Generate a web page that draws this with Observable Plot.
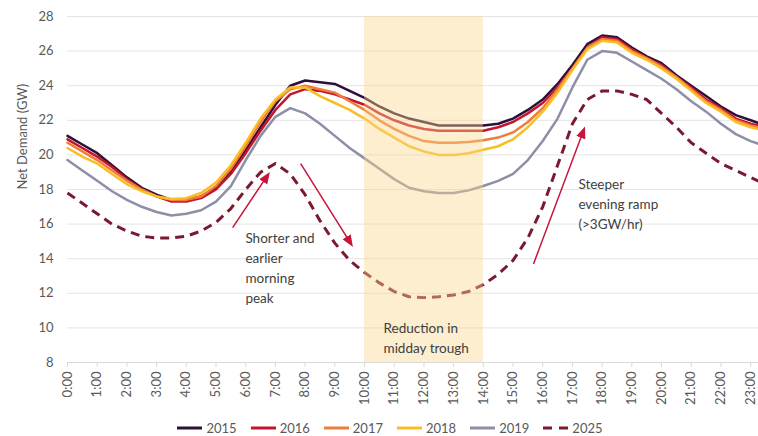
<!DOCTYPE html>
<html><head><meta charset="utf-8">
<script src="https://cdn.jsdelivr.net/npm/d3@7"></script>
<script src="https://cdn.jsdelivr.net/npm/@observablehq/plot@0.6"></script>
<style>
body{margin:0;background:#fff;font-family:Lato,sans-serif;}
#chart{width:758px;height:436px;position:relative;overflow:hidden;}
#legend{position:absolute;left:0;top:421px;width:736px;padding-left:22px;display:flex;justify-content:center;font-size:13px;color:#595959;line-height:14px;}
.item{display:flex;align-items:center;margin:0 7px;}
.item svg{margin-right:4px;}
</style></head><body><div id="chart"><div id="legend"></div></div>
<script>
// half-hourly time points (hours)
const times = [0,0.5,1,1.5,2,2.5,3,3.5,4,4.5,5,5.5,6,6.5,7,7.5,8,8.5,9,9.5,10,10.5,11,11.5,12,12.5,13,13.5,14,14.5,15,15.5,16,16.5,17,17.5,18,18.5,19,19.5,20,20.5,21,21.5,22,22.5,23,23.5];
const hourTicks = [0,1,2,3,4,5,6,7,8,9,10,11,12,13,14,15,16,17,18,19,20,21,22,23];
const hourLabels = ["0:00","1:00","2:00","3:00","4:00","5:00","6:00","7:00","8:00","9:00","10:00","11:00","12:00","13:00","14:00","15:00","16:00","17:00","18:00","19:00","20:00","21:00","22:00","23:00"];
const yTicks = [8,10,12,14,16,18,20,22,24,26,28];

const years = ["2015","2016","2017","2018","2019","2025"];
const y2015 = [21.1,20.6,20.1,19.4,18.7,18.1,17.7,17.4,17.4,17.6,18.1,19.0,20.3,21.6,22.9,24.0,24.3,24.2,24.1,23.7,23.3,22.8,22.4,22.1,21.9,21.7,21.7,21.7,21.7,21.8,22.1,22.6,23.2,24.1,25.2,26.4,26.9,26.8,26.2,25.7,25.3,24.6,24.0,23.4,22.8,22.3,22.0,21.7];
const y2016 = [20.9,20.4,19.9,19.3,18.6,18.0,17.6,17.3,17.3,17.5,18.0,18.9,20.1,21.4,22.6,23.5,23.8,23.7,23.5,23.2,22.9,22.4,22.0,21.7,21.5,21.4,21.4,21.4,21.4,21.6,21.9,22.4,23.0,23.9,25.0,26.2,26.8,26.7,26.1,25.6,25.2,24.5,23.9,23.2,22.7,22.1,21.8,21.6];
const y2017 = [20.7,20.2,19.7,19.1,18.5,18.0,17.6,17.4,17.4,17.6,18.2,19.2,20.5,21.9,23.1,23.8,24.0,23.8,23.6,23.1,22.6,22.0,21.5,21.1,20.8,20.7,20.7,20.75,20.85,21.0,21.3,21.9,22.7,23.8,25.0,26.2,26.7,26.6,26.0,25.6,25.1,24.5,23.8,23.1,22.6,22.0,21.7,21.5];
const y2018 = [20.4,19.9,19.5,18.9,18.3,17.9,17.6,17.45,17.5,17.8,18.4,19.4,20.7,22.1,23.2,23.9,23.9,23.4,23.0,22.6,22.1,21.5,21.0,20.5,20.2,20.0,20.0,20.1,20.3,20.5,20.9,21.6,22.5,23.6,24.9,26.1,26.6,26.5,25.9,25.5,25.0,24.4,23.7,23.0,22.5,21.9,21.6,21.4];
const y2019 = [19.7,19.1,18.5,17.9,17.4,17.0,16.7,16.5,16.6,16.8,17.3,18.2,19.7,21.1,22.2,22.7,22.4,21.8,21.1,20.4,19.8,19.2,18.6,18.1,17.9,17.8,17.8,17.95,18.2,18.5,18.9,19.7,20.8,22.1,23.9,25.5,26.0,25.9,25.4,24.9,24.4,23.8,23.1,22.5,21.8,21.2,20.8,20.5];
const y2025 = [17.8,17.2,16.6,16.0,15.6,15.3,15.2,15.2,15.3,15.6,16.1,16.9,18.0,19.0,19.5,18.9,17.7,16.2,14.9,13.9,13.2,12.6,12.1,11.8,11.75,11.8,11.9,12.1,12.5,13.1,13.9,15.2,17.0,19.4,21.8,23.2,23.7,23.7,23.5,23.2,22.4,21.6,20.7,20.1,19.5,19.1,18.7,18.3];
const values = [y2015,y2016,y2017,y2018,y2019,y2025];
const colors = ["#2d0f38","#c4152f","#ef7d38","#fbbd24","#8d8fa7","#7a1a30"];
const dashes = [null,null,null,null,null,"9,6"];

// highlighted midday window (hours)
const highlight = [{start:10, end:14}];
// annotation arrows (hour, GW)
const arrows = [
  {x1:5.56,y1:15.8,x2:6.73,y2:18.8},
  {x1:7.85,y1:19.5,x2:9.53,y2:14.9},
  {x1:15.69,y1:13.7,x2:17.37,y2:21.4}
];
const notes = [
  {x:5.99,y:15.75,text:"Shorter and\nearlier\nmorning\npeak"},
  {x:10.64,y:10.54,text:"Reduction in\nmidday trough"},
  {x:17.2,y:18.87,text:"Steeper\nevening ramp\n(>3GW/hr)"}
];

const lineMarks = years.map((yr,k) => Plot.line(times.map((t,i)=>({t, v: values[k][i]})), {
  x:"t", y:"v", stroke: colors[k], strokeWidth: k===5 ? 3 : 2.5,
  strokeDasharray: dashes[k] || undefined, strokeLinejoin:"round", strokeLinecap: k===5 ? "butt" : "round"
}));

const plot = Plot.plot({
  width: 758, height: 420,
  marginTop: 16, marginBottom: 58, marginLeft: 67, marginRight: 0,
  style: {fontFamily: "Lato, sans-serif", fontSize: "13px", color: "#595959", background: "transparent", overflow: "hidden"},
  x: {domain: [0, 23.5], range: [67, 765], axis: null},
  y: {domain: [8, 28], axis: null},
  marks: [
    Plot.ruleY(yTicks.filter(d => d !== 8), {stroke: "#e4e4e4", strokeWidth: 1}),
    Plot.ruleY([8], {stroke: "#d9d9d9", strokeWidth: 1}),
    Plot.axisY({ticks: yTicks, tickSize: 0, tickPadding: 14, label: null, fill: "#595959", fontSize: 13}),
    Plot.axisX({ticks: hourTicks, tickFormat: d => hourLabels[d], tickRotate: -90, tickSize: 5, tickPadding: 4,
      stroke: "#d9d9d9", fill: "#595959", label: null, fontSize: 13}),
    ...lineMarks,
    Plot.rect(highlight, {x1:"start", x2:"end", y1: 8, y2: 28, fill: "#f8d68a", fillOpacity: 0.42}),
    Plot.link(arrows, {x1:"x1", y1:"y1", x2:"x2", y2:"y2", stroke: "#c8143a", strokeWidth: 1.5, markerEnd: "arrow"}),
    Plot.text(notes, {x:"x", y:"y", text:"text", textAnchor:"start", lineAnchor:"top", lineHeight: 1.48,
      fill: "#404040", fontSize: 13.5, fontFamily: "Lato, sans-serif"}),
    Plot.text(["Net Demand (GW)"], {frameAnchor: "left", rotate: -90, dx: -45, fill: "#595959", fontSize: 13, text: d => d})
  ]
});

// filled arrowheads
d3.select(plot).selectAll("marker").each(function(){
  const m = d3.select(this);
  const col = m.attr("stroke");
  m.attr("fill", col).attr("stroke", "none").attr("markerWidth", 10).attr("markerHeight", 10);
  m.selectAll("path").attr("d", "M-5,-3.2L3,0L-5,3.2Z");
});

document.getElementById("chart").prepend(plot);

// legend
const legend = d3.select("#legend");
years.forEach((yr,k) => {
  const it = legend.append("div").attr("class","item");
  const s = it.append("svg").attr("width", 25).attr("height", 6);
  s.append("line").attr("x1",0).attr("x2",25).attr("y1",3).attr("y2",3)
    .attr("stroke", colors[k]).attr("stroke-width", 3)
    .attr("stroke-dasharray", k===5 ? "9,7" : null);
  it.append("span").text(yr);
});
</script></body></html>
